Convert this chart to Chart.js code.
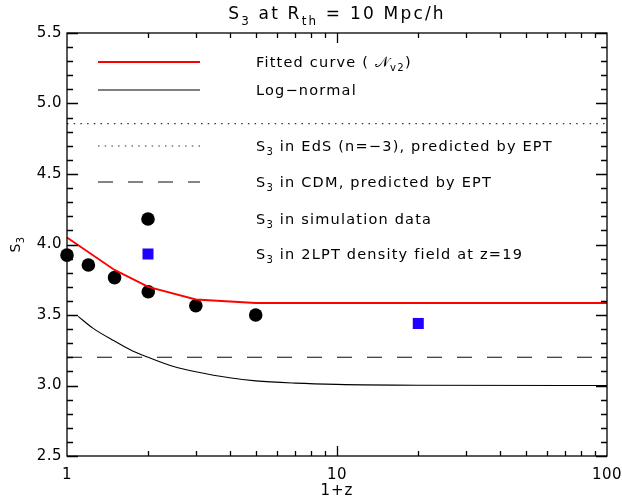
<!DOCTYPE html>
<html>
<head>
<meta charset="utf-8">
<script src="https://cdn.jsdelivr.net/npm/chart.js@4"></script>
<style>
  html, body { margin: 0; padding: 0; background: #fff; }
</style>
</head>
<body>
<canvas id="chart" width="622" height="503"></canvas>
<script>
// simulation measurements
const simZ = [1, 1.2, 1.5, 2, 3, 5];
const simS3 = [3.925, 3.855, 3.765, 3.665, 3.566, 3.50];
// 2LPT density field at z=19
const lptZ = [20];
const lptS3 = [3.44];
// fitted curve (N_v2)
const fitZ = [1, 1.5, 2, 3, 5, 100];
const fitS3 = [4.05, 3.82, 3.70, 3.61, 3.585, 3.585];
// log-normal
const lnZ = [1.1, 1.25, 1.5, 1.75, 2, 2.5, 3, 4, 5, 7, 10, 20, 100];
const lnS3 = [3.49, 3.405, 3.315, 3.245, 3.20, 3.133, 3.098, 3.055, 3.033, 3.017, 3.008, 3.002, 3.0];
// EPT predictions
const edsS3 = 4.857;
const cdmS3 = 3.2;
const xRange = [1, 100];

const yTicks = [2.5, 3.0, 3.5, 4.0, 4.5, 5.0, 5.5];
const xTicks = [1, 10, 100];

const FONT = '"DejaVu Sans", sans-serif';

function pts(xs, ys) {
  return xs.map((x, i) => ({ x: x, y: ys[i] }));
}

// draws text with subscripts; parts = [[text, isSub], ...]
function rich(ctx, parts, x, y, size, align, spacing) {
  ctx.letterSpacing = (spacing || 0) + 'px';
  const widths = parts.map(p => {
    ctx.font = (p[1] ? size * 0.7 : size) + 'px ' + FONT;
    return ctx.measureText(p[0]).width;
  });
  const total = widths.reduce((a, b) => a + b, 0);
  let cx = align === 'center' ? x - total / 2 : x;
  ctx.textAlign = 'left';
  ctx.textBaseline = 'middle';
  parts.forEach((p, i) => {
    ctx.font = (p[1] ? size * 0.7 : size) + 'px ' + FONT;
    ctx.fillText(p[0], cx, p[1] ? y + size * 0.38 : y);
    cx += widths[i];
  });
  ctx.letterSpacing = '0px';
}

const framePlugin = {
  id: 'frame',
  afterDraw(chart) {
    const ctx = chart.ctx;
    const a = chart.chartArea;
    const xs = chart.scales.x, ys = chart.scales.y;
    ctx.save();
    ctx.strokeStyle = '#000';
    ctx.fillStyle = '#000';
    ctx.lineWidth = 1.3;
    ctx.strokeRect(a.left, a.top, a.right - a.left, a.bottom - a.top);

    ctx.beginPath();
    // y ticks, both sides
    for (let v = 25; v <= 55; v++) {
      const py = Math.round(ys.getPixelForValue(v / 10)) + 0.5;
      const len = v % 5 === 0 ? 11 : 6;
      ctx.moveTo(a.left, py); ctx.lineTo(a.left + len, py);
      ctx.moveTo(a.right, py); ctx.lineTo(a.right - len, py);
    }
    // x ticks, both sides
    [1, 10].forEach(dec => {
      for (let m = 1; m <= 9; m++) {
        const v = dec * m;
        if (v === 1) continue;
        const px = Math.round(xs.getPixelForValue(v)) + 0.5;
        const len = m === 1 ? 10 : 5;
        ctx.moveTo(px, a.bottom); ctx.lineTo(px, a.bottom - len);
        ctx.moveTo(px, a.top); ctx.lineTo(px, a.top + len);
      }
    });
    ctx.stroke();

    // tick labels
    ctx.font = '15px ' + FONT;
    ctx.letterSpacing = '0.5px';
    ctx.textAlign = 'right';
    ctx.textBaseline = 'middle';
    yTicks.forEach(v => ctx.fillText(v.toFixed(1), a.left - 5, ys.getPixelForValue(v)));
    ctx.textAlign = 'center';
    ctx.textBaseline = 'top';
    xTicks.forEach(v => ctx.fillText(String(v), xs.getPixelForValue(v), a.bottom + 12));

    // axis titles
    ctx.font = '15px ' + FONT;
    ctx.letterSpacing = '1px';
    ctx.fillText('1+z', (a.left + a.right) / 2, a.bottom + 28);
    ctx.letterSpacing = '0px';
    ctx.save();
    ctx.translate(16, (a.top + a.bottom) / 2);
    ctx.rotate(-Math.PI / 2);
    rich(ctx, [['S', 0], ['3', 1]], 0, 0, 14, 'center', 0.5);
    ctx.restore();

    // title
    rich(ctx, [['S', 0], ['3', 1], [' at R', 0], ['th', 1], [' = 10 Mpc/h', 0]],
      (a.left + a.right) / 2, 15, 17, 'center', 2.2);

    // legend
    const lx0 = 98, lx1 = 200, tx = 256, ts = 14.5, sp = 1.2;
    const rows = [
      { y: 62, kind: 'line', color: '#ff0000', w: 1.8, dash: [], text: [['Fitted curve ( ', 0], ['\u{1D4A9}', 0], ['v2', 1], [')', 0]] },
      { y: 90, kind: 'line', color: '#000', w: 1.1, dash: [], text: [['Log\u2212normal', 0]] },
      { y: 146, kind: 'line', color: '#333', w: 1.1, dash: [1.5, 5.2], text: [['S', 0], ['3', 1], [' in EdS (n=\u22123), predicted by EPT', 0]] },
      { y: 182, kind: 'line', color: '#333', w: 1.2, dash: [15, 15], text: [['S', 0], ['3', 1], [' in CDM, predicted by EPT', 0]] },
      { y: 219, kind: 'circle', text: [['S', 0], ['3', 1], [' in simulation data', 0]] },
      { y: 254, kind: 'square', text: [['S', 0], ['3', 1], [' in 2LPT density field at z=19', 0]] }
    ];
    rows.forEach(r => {
      if (r.kind === 'line') {
        ctx.save();
        ctx.strokeStyle = r.color;
        ctx.lineWidth = r.w;
        ctx.setLineDash(r.dash);
        ctx.beginPath();
        ctx.moveTo(lx0, r.y); ctx.lineTo(lx1, r.y);
        ctx.stroke();
        ctx.restore();
      } else if (r.kind === 'circle') {
        ctx.beginPath();
        ctx.arc(148, r.y, 6.8, 0, Math.PI * 2);
        ctx.fill();
      } else {
        ctx.save();
        ctx.fillStyle = '#2200ff';
        ctx.fillRect(148 - 5.5, r.y - 5.5, 11, 11);
        ctx.restore();
      }
      ctx.fillStyle = '#000';
      rich(ctx, r.text, tx, r.y + 1, ts, 'left', sp);
    });
    ctx.restore();
  }
};

new Chart(document.getElementById('chart'), {
  type: 'scatter',
  data: {
    datasets: [
      {
        label: 'EdS', type: 'line', data: pts(xRange, [edsS3, edsS3]),
        borderColor: '#333', borderWidth: 1.1, borderDash: [1.5, 5.2], pointRadius: 0, fill: false
      },
      {
        label: 'CDM', type: 'line', data: pts(xRange, [cdmS3, cdmS3]),
        borderColor: '#333', borderWidth: 1.2, borderDash: [15, 15], pointRadius: 0, fill: false
      },
      {
        label: 'Log-normal', type: 'line', data: pts(lnZ, lnS3),
        borderColor: '#000', borderWidth: 1.1, pointRadius: 0, cubicInterpolationMode: 'monotone', fill: false
      },
      {
        label: 'Fitted', type: 'line', data: pts(fitZ, fitS3),
        borderColor: '#ff0000', borderWidth: 1.8, pointRadius: 0, tension: 0, fill: false
      },
      {
        label: 'Simulation', data: pts(simZ, simS3),
        backgroundColor: '#000', borderWidth: 0, pointRadius: 6.8, pointStyle: 'circle'
      },
      {
        label: '2LPT', data: pts(lptZ, lptS3),
        backgroundColor: '#2200ff', borderWidth: 0, pointRadius: 7.8, pointStyle: 'rect'
      }
    ]
  },
  options: {
    responsive: false,
    animation: false,
    devicePixelRatio: 1,
    layout: { padding: { left: 67, right: 15, top: 33, bottom: 47 } },
    clip: false,
    scales: {
      x: { type: 'logarithmic', min: 1, max: 100, display: false },
      y: { type: 'linear', min: 2.5, max: 5.5, display: false }
    },
    plugins: {
      legend: { display: false },
      tooltip: { enabled: false },
      title: { display: false }
    }
  },
  plugins: [framePlugin]
});
</script>
</body>
</html>
